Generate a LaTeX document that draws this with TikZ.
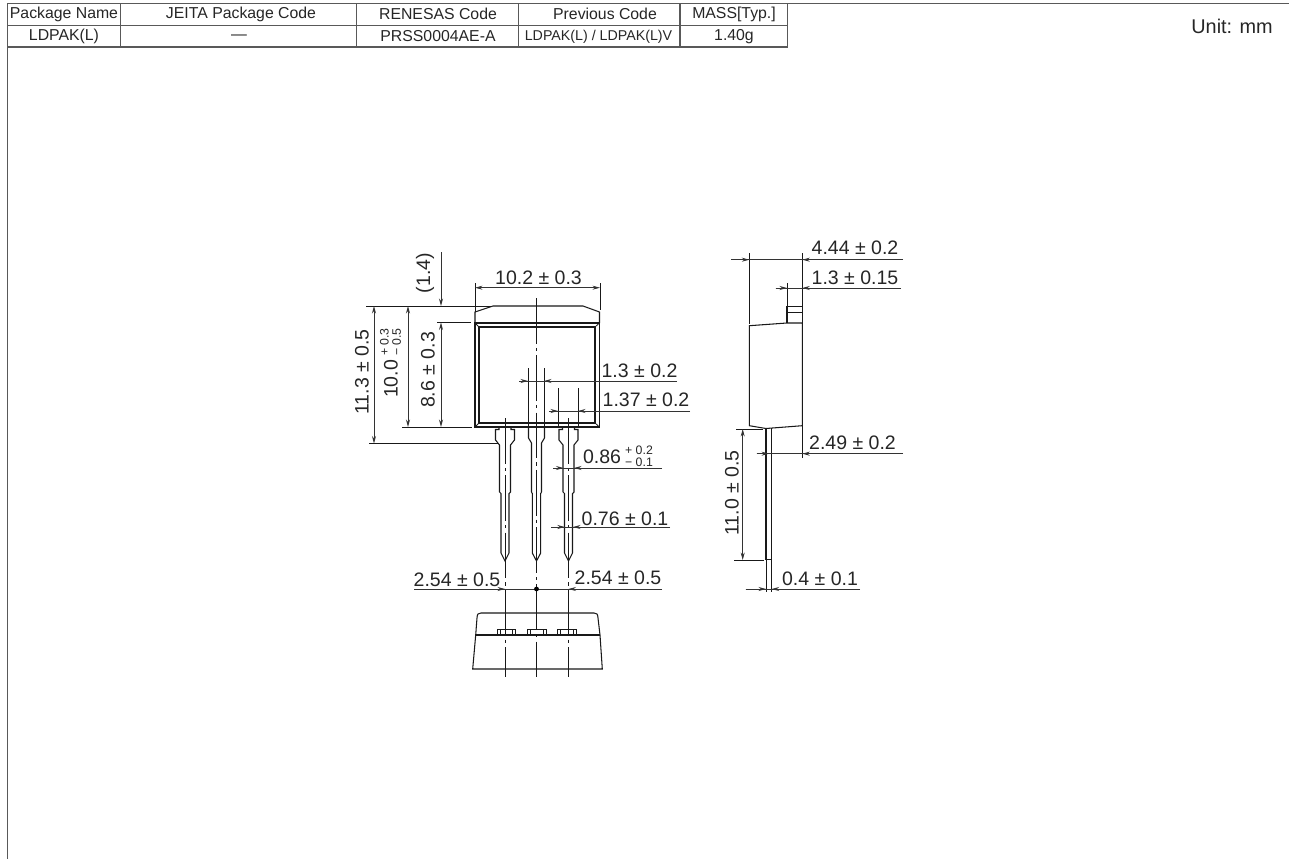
\documentclass[tikz,border=0pt]{standalone}
\usepackage{fontspec}
\setmainfont{Liberation Sans}
\usetikzlibrary{arrows.meta}
\tikzset{
  body/.style={line width=.6pt,line join=miter,black!90},
  thinl/.style={line width=.45pt,black!90},
  dimline/.style={line width=.45pt,black!80},
  dimtip/.style={line width=.45pt,black!80,-{Stealth[length=1.5mm,width=.8mm]}},
  centerl/.style={line width=.45pt,black!90,dash pattern=on 26pt off 2.4pt on 1.8pt off 2.4pt},
  dimtext/.style={inner sep=0pt,font=\fontsize{11.1}{12}\selectfont,text=black!85},
  toltext/.style={inner sep=0pt,align=center,font=\fontsize{7}{7}\selectfont,text=black!85},
  celltext/.style={inner sep=0pt,font=\fontsize{9}{10}\selectfont,text=black!85},
  tabline/.style={line width=.7pt,black!65}
}
\begin{document}
\begin{tikzpicture}[x=.02cm,y=-.02cm]
\useasboundingbox (0,0) rectangle (1289,859);
% title block
\draw[tabline] (7.5,859) -- (7.5,3.5) -- (1289,3.5);
\draw[tabline] (7.5,25.5) -- (787.5,25.5); \draw[tabline] (7.5,47) -- (787.5,47);
\foreach \i in {120.7,356.7,518.3,680,787.5}{\draw[tabline] (\i,3.5) -- (\i,47);}
\node[celltext] (pkgname) at (64,14){Package Name};
\node[celltext] (jeita) at (241,14){JEITA Package Code};
\node[celltext] (renesas) at (438,14){RENESAS Code};
\node[celltext] (prevcode) at (605,14){Previous Code};
\node[celltext] (mass) at (734,14){MASS[Typ.]};
\node[celltext] (pkgval) at (64,36.5){LDPAK(L)};
\node[celltext] (jeitaval) at (239,37){—};
\node[celltext] (renesasval) at (438,36.5){PRSS0004AE-A};
\node[celltext,font=\fontsize{8.1}{10}\selectfont] (prevval) at (598.5,36.5){LDPAK(L) / LDPAK(L)V};
\node[celltext] (massval) at (734,36.5){1.40g};
\node[dimtext,font=\fontsize{11.3}{12}\selectfont] (unit) at (1232,26){Unit: mm};
% front view
\draw[body] (475,323) -- (475,312) -- (493,306) -- (583,306) -- (599.5,312) -- (599.5,323);
\draw[body] (475,323) rectangle (599.5,427);
\draw[body] (479,327) rectangle (595,423);
\foreach \i/\j/\k/\l in {475/323/479/327,599.5/323/595/327,475/427/479/423,599.5/427/595/423}{\draw[thinl] (\i,\j) -- (\k,\l);}
% leads
\foreach \c in {505,568.5}{
\draw[body] (\c-6,427) -- (\c-6,429.5) -- (\c-9.5,429.5) -- (\c-9.5,440) -- (\c-5.5,445) -- (\c-5.5,492) -- (\c-4,493.5) -- (\c-4,553) -- (\c,561)
 -- (\c+4,553) -- (\c+4,493.5) -- (\c+5.5,492) -- (\c+5.5,445) -- (\c+9.5,440) -- (\c+9.5,429.5) -- (\c+6,429.5) -- (\c+6,427);}
\draw[body] (528.5,427) -- (528.5,438) -- (531.5,443) -- (531.5,492) -- (532.3,493.5) -- (532.3,553) -- (536.5,561)
 -- (540.7,553) -- (540.7,493.5) -- (541.5,492) -- (541.5,443) -- (544.5,438) -- (544.5,427);
\foreach \i in {505,568.5}{\draw[centerl] (\i,418) -- (\i,677);}
\draw[centerl] (536.5,298) -- (536.5,677);
% bottom view
\draw[body] (472.7,669) -- (475.7,635) -- (477,618) .. controls (477.3,614) and (478,613) .. (481,613) -- (594,613) .. controls (597,613) and (597.7,614) .. (598,618) -- (600,635) -- (602.3,669) -- cycle;
\draw[body] (475.7,635) -- (600,635);
\foreach \i in {497,527.5,557.5}{
\draw[thinl] (\i,635) -- (\i,629.5) -- (\i+18.5,629.5) -- (\i+18.5,635);
\draw[thinl] (\i+3,629.5) -- (\i+3,635); \draw[thinl] (\i+15.5,629.5) -- (\i+15.5,635);}
% side view
\draw[body] (749.3,325.7) -- (787,323) -- (802.3,323) -- (802.3,425.7) -- (766,428.5) -- (749.3,425.7) -- cycle;
\draw[body] (787,323) -- (787,306.3) -- (802.3,306.3) -- (802.3,323);
\draw[thinl] (787,312) -- (802.3,312);
\draw[body] (766,428.5) -- (766,559.3) -- (771.7,559.3) -- (771.7,428);
% extension lines
\draw[thinl] (366,306) -- (492,306); \draw[thinl] (437,322.5) -- (471,322.5); \draw[thinl] (402,427) -- (472,427); \draw[thinl] (369,443.5) -- (499,443.5);
\draw[thinl] (475,283) -- (475,312); \draw[thinl] (600,283) -- (600,310);
\foreach \i in {528,544}{\draw[thinl] (\i,368) -- (\i,428);}
\foreach \i in {558,578}{\draw[thinl] (\i,388) -- (\i,428);}
\draw[thinl] (749.3,253) -- (749.3,324); \draw[thinl] (802.3,253) -- (802.3,306); \draw[thinl] (787,283) -- (787,306);
\draw[thinl] (802.3,426) -- (802.3,458); \draw[thinl] (736,429) -- (763,429); \draw[thinl] (734,560) -- (764,560);
\draw[thinl] (766,559) -- (766,592); \draw[thinl] (771.7,559) -- (771.7,592);
% horizontal dimensions
\foreach \y/\a/\b/\c/\d in {381/519/528/544/677,411/549/558/578/690,468/553/563.5/574/662,527/551/564.8/573/670,
 589/414/505/568.5/662,259.7/731/749.3/802.3/903,288/775.7/787/802.3/901,453.7/756.7/769/802.3/903,589/745.7/766/771.7/860}{
\draw[dimline] (\a,\y) -- (\d,\y);
\draw[dimtip] (\a,\y) -- (\b,\y); \draw[dimtip] (\d,\y) -- (\c,\y);}
\draw[dimtip] (537,287.7) -- (475,287.7); \draw[dimtip] (537,287.7) -- (600,287.7);
\fill (536.5,589) circle (2.4);
% vertical dimensions
\foreach \i/\j/\k in {408/306/427,374/306/443.5,441/322.5/427,742.7/429/560}{
\draw[dimtip] (\i,{(\j+\k)/2}) -- (\i,\j); \draw[dimtip] (\i,{(\j+\k)/2}) -- (\i,\k);}
\draw[dimtip] (441,252) -- (441,306);
% dimension labels
\node[dimtext] (wdtotal) at (538.5,278){10.2 ± 0.3};
\node[dimtext,rotate=90] (topgap) at (425,273){(1.4)};
\node[dimtext,rotate=90] (htlead) at (362,372){11.3 ± 0.5};
\node[dimtext,rotate=90] (htbody) at (391,379){10.0};
\node[toltext,rotate=90] (httol) at (390.5,342){+ 0.3\\− 0.5};
\node[dimtext,rotate=90] (htwin) at (428,370){8.6 ± 0.3};
\node[dimtext] (pinwd) at (639.5,371){1.3 ± 0.2};
\node[dimtext] (pinwdb) at (646,400){1.37 ± 0.2};
\node[dimtext] (shoulder) at (602,457){0.86};
\node[toltext] (shtol) at (639,456.5){+ 0.2\\− 0.1};
\node[dimtext] (tipwd) at (625,518.5){0.76 ± 0.1};
\node[dimtext] (pitchl) at (457,579.5){2.54 ± 0.5};
\node[dimtext] (pitchr) at (618,578){2.54 ± 0.5};
\node[dimtext] (depth) at (855,248){4.44 ± 0.2};
\node[dimtext] (tabwd) at (855,278){1.3 ± 0.15};
\node[dimtext] (leadpos) at (852.5,443){2.49 ± 0.2};
\node[dimtext,rotate=90] (leadlen) at (732,493){11.0 ± 0.5};
\node[dimtext] (leadth) at (820,578.5){0.4 ± 0.1};
\end{tikzpicture}
\end{document}
